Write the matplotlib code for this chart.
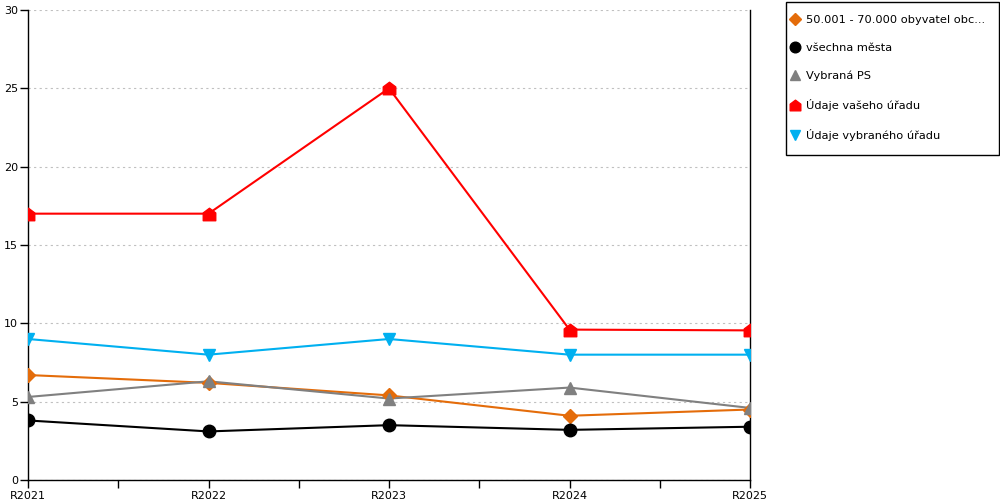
import numpy as np
import matplotlib.pyplot as plt
from matplotlib.path import Path
from matplotlib.patches import Rectangle
from matplotlib.ticker import MultipleLocator

years = ["R2021", "R2022", "R2023", "R2024", "R2025"]
obce_50_70 = [6.7, 6.2, 5.4, 4.1, 4.5]
vsechna_mesta = [3.8, 3.1, 3.5, 3.2, 3.4]
vybrana_ps = [5.3, 6.3, 5.2, 5.9, 4.6]
vas_urad = [17.0, 17.0, 25.0, 9.6, 9.55]
vybrany_urad = [9.0, 8.0, 9.0, 8.0, 8.0]

# house-shaped marker for "your office"
house = Path([(-1, -1), (1, -1), (1, 0.25), (0, 1), (-1, 0.25), (-1, -1)],
             [Path.MOVETO] + [Path.LINETO] * 4 + [Path.CLOSEPOLY])

plt.rcParams['font.family'] = ['DejaVu Sans']

fig = plt.figure(figsize=(10, 5), dpi=100)
ax = fig.add_axes([0.028, 0.04, 0.722, 0.94])

x = np.arange(len(years))
series = [
    (obce_50_70, "50.001 - 70.000 obyvatel obc...", "#E46C0A", "D", 7),
    (vsechna_mesta, "všechna města", "#000000", "o", 9),
    (vybrana_ps, "Vybraná PS", "#808080", "^", 9),
    (vas_urad, "Údaje vašeho úřadu", "#FF0000", house, 9),
    (vybrany_urad, "Údaje vybraného úřadu", "#00B0F0", "v", 9),
]
handles = []
for vals, label, col, mk, ms in series:
    ax.plot(x, vals, color=col, lw=1.5, zorder=3)
    h, = ax.plot(x, vals, color=col, lw=0, marker=mk, markersize=ms,
                 label=label, zorder=4)
    handles.append(h)

ax.set_xlim(0, 4)
ax.set_ylim(0, 30)
ax.yaxis.set_major_locator(MultipleLocator(5))
ax.set_xticks(x)
ax.set_xticklabels(years)
ax.set_xticks(x[:-1] + 0.5, minor=True)
ax.tick_params(axis='both', which='both', direction='out', length=6,
               width=1, labelsize=8)
ax.tick_params(axis='y', pad=1)
ax.tick_params(axis='x', pad=2)
ax.grid(axis='y', color='#C0C0C0', linestyle=(0, (2, 3)), lw=0.8)
ax.set_axisbelow(True)
ax.spines['top'].set_visible(False)
for s in ['left', 'bottom', 'right']:
    ax.spines[s].set_color('black')
    ax.spines[s].set_linewidth(1)

# legend box drawn separately, entries placed inside it
fig.patches.append(Rectangle((0.786, 0.69), 0.213, 0.306, transform=fig.transFigure,
                             fill=False, edgecolor='black', lw=1))
leg = fig.legend(handles=handles, loc='upper left',
                 bbox_to_anchor=(0.786, 0.98), borderaxespad=0,
                 fontsize=8.2, labelspacing=1.58, handlelength=0.8,
                 handletextpad=0.6, borderpad=0.4, markerscale=0.85,
                 frameon=False)

fig.savefig("out.png", dpi=100)
